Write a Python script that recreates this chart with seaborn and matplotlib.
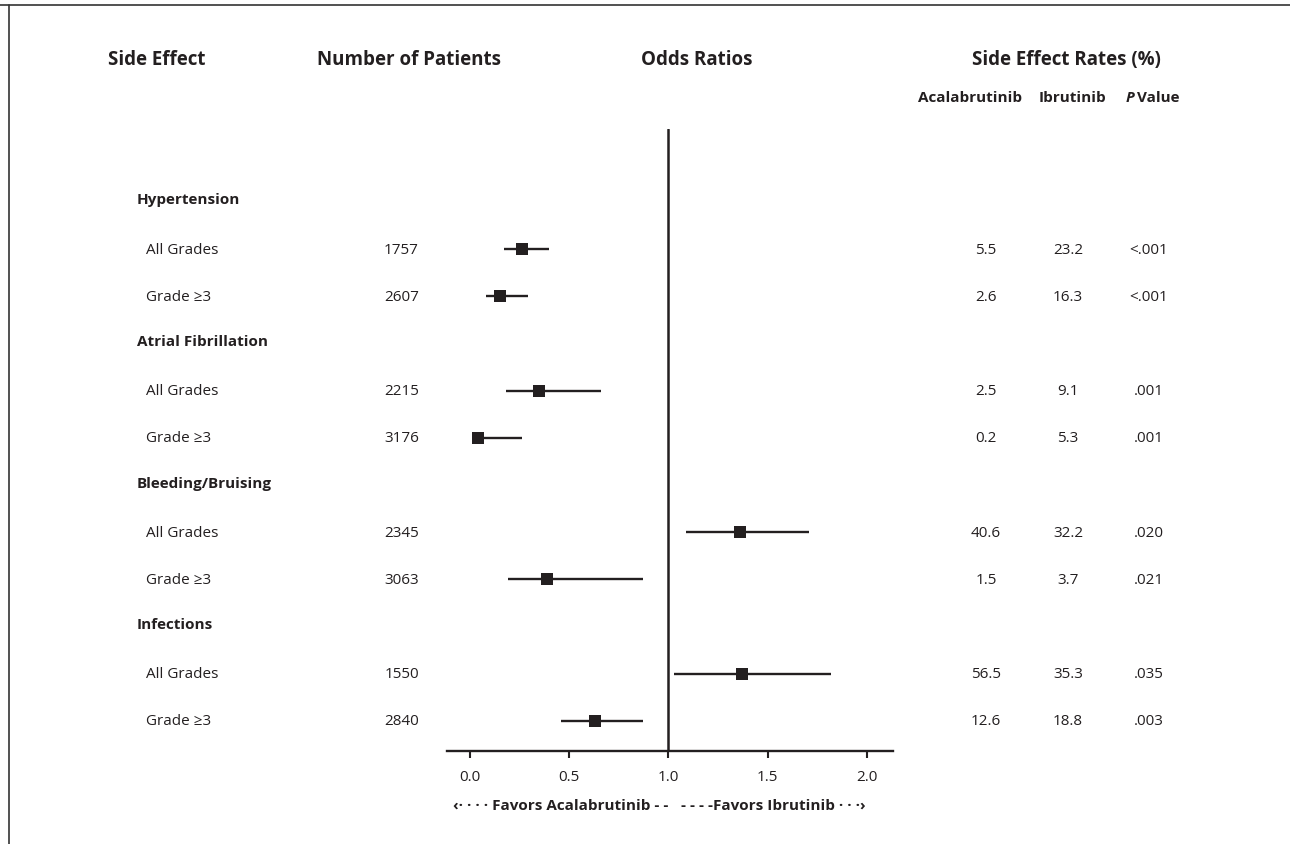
import matplotlib
matplotlib.use("Agg")
import matplotlib.pyplot as plt
import pandas as pd
import seaborn as sns
from matplotlib.transforms import blended_transform_factory
from matplotlib.lines import Line2D

# ---- data -------------------------------------------------------------
groups = ["Hypertension", "Atrial Fibrillation", "Bleeding/Bruising", "Infections"]
grades = ["All Grades", "Grade ≥3"]
patients = [1757, 2607, 2215, 3176, 2345, 3063, 1550, 2840]
odds_ratio = [0.26, 0.15, 0.35, 0.04, 1.36, 0.39, 1.37, 0.63]
ci_low = [0.17, 0.08, 0.18, 0.01, 1.09, 0.19, 1.03, 0.46]
ci_high = [0.40, 0.29, 0.66, 0.26, 1.71, 0.87, 1.82, 0.87]
rate_acala = ["5.5", "2.6", "2.5", "0.2", "40.6", "1.5", "56.5", "12.6"]
rate_ibru = ["23.2", "16.3", "9.1", "5.3", "32.2", "3.7", "35.3", "18.8"]
p_values = ["<.001", "<.001", ".001", ".001", ".020", ".021", ".035", ".003"]
x_ticks = [0.0, 0.5, 1.0, 1.5, 2.0]

# each group takes three rows: header, All Grades, Grade >=3
rows = []
for gi, g in enumerate(groups):
    for k, grade in enumerate(grades):
        i = gi * 2 + k
        rows.append(dict(group=g, grade=grade, slot=gi * 3 + k + 1,
                         n=patients[i], odds=odds_ratio[i], lo=ci_low[i], hi=ci_high[i],
                         acala=rate_acala[i], ibru=rate_ibru[i], p=p_values[i]))
df = pd.DataFrame(rows)

# ---- style ------------------------------------------------------------
sns.set_theme(style="white")
plt.rcParams["font.family"] = ["Open Sans", "DejaVu Sans"]
INK = "#231f20"

W, H = 1290, 845
fig = plt.figure(figsize=(W / 100, H / 100), dpi=100)
fig.patch.set_facecolor("white")

ROW0, ROWH = 202.8, 47.2           # pixel centre of row 0, row pitch
X0, XS = 470.0, 198.5              # pixel of OR=0, pixels per unit
AX_L, AX_R, AX_T, AX_B = 447, 893, 130, 752

ax = fig.add_axes([AX_L / W, 1 - AX_B / H, (AX_R - AX_L) / W, (AX_B - AX_T) / H])
ax.set_xlim((AX_L - X0) / XS, (AX_R - X0) / XS)
ax.set_ylim((AX_B - ROW0) / ROWH, (AX_T - ROW0) / ROWH)
ax.set_facecolor("none")

for side in ["top", "left", "right"]:
    ax.spines[side].set_visible(False)
ax.spines["bottom"].set_color(INK)
ax.spines["bottom"].set_linewidth(1.7)
ax.set_yticks([])
ax.set_xticks(x_ticks)
ax.set_xticklabels([f"{t:.1f}" for t in x_ticks], fontsize=11, color=INK)
ax.tick_params(axis="x", direction="out", length=5, width=1.5, color=INK, pad=8,
               bottom=True)

# line of no effect
ax.axvline(1.0, color=INK, lw=1.8, zorder=1)

# confidence intervals and point estimates
ax.hlines(df["slot"], df["lo"], df["hi"], color=INK, lw=1.7, zorder=2)
sns.scatterplot(data=df, x="odds", y="slot", marker="s", s=75, color=INK,
                edgecolor="none", linewidth=0, ax=ax, zorder=3, legend=False)
ax.set_xlabel("")
ax.set_ylabel("")

# ---- table text -------------------------------------------------------
tr = blended_transform_factory(fig.transFigure, ax.transData)


def fx(px):
    return px / W


def fy(py):
    return 1 - py / H


# column headers
hdr = dict(fontsize=13.5, fontweight="bold", color=INK, va="center")
fig.text(fx(157), fy(60), "Side Effect", ha="center", **hdr)
fig.text(fx(409), fy(60), "Number of Patients", ha="center", **hdr)
fig.text(fx(697), fy(60), "Odds Ratios", ha="center", **hdr)
fig.text(fx(1066), fy(60), "Side Effect Rates (%)", ha="center", **hdr)

sub = dict(fontsize=11, fontweight="bold", color=INK, va="center")
fig.text(fx(970), fy(98), "Acalabrutinib", ha="center", **sub)
fig.text(fx(1072), fy(98), "Ibrutinib", ha="center", **sub)
fig.text(fx(1134), fy(98), "P", ha="right", fontstyle="italic", **sub)
fig.text(fx(1137), fy(98), "Value", ha="left", **sub)

# group headers
for gi, g in enumerate(groups):
    ax.text(fx(137), gi * 3 - 0.05, g, transform=tr, ha="left", va="center",
            fontsize=11, fontweight="bold", color=INK)

# rows
cell = dict(transform=tr, va="center", fontsize=11, color=INK)
for _, r in df.iterrows():
    ax.text(fx(146), r["slot"], r["grade"], ha="left", **cell)
    ax.text(fx(419), r["slot"], f"{r['n']}", ha="right", **cell)
    ax.text(fx(986), r["slot"], r["acala"], ha="center", **cell)
    ax.text(fx(1068), r["slot"], r["ibru"], ha="center", **cell)
    ax.text(fx(1149), r["slot"], r["p"], ha="center", **cell)

# direction captions under the axis
cap = dict(fontsize=11, fontweight="bold", color=INK, va="center")
fig.text(fx(453), fy(806), "‹· · · · Favors Acalabrutinib - -", ha="left", **cap)
fig.text(fx(866), fy(806), "- - - -Favors Ibrutinib · · ·›", ha="right", **cap)

# frame lines along the top and left edges
fig.add_artist(Line2D([0, 1], [fy(6), fy(6)], transform=fig.transFigure,
                      color="#333333", lw=1.2))
fig.add_artist(Line2D([fx(9), fx(9)], [fy(6), 0], transform=fig.transFigure,
                      color="#333333", lw=1.2))

fig.savefig("out.png", dpi=100, facecolor="white")
